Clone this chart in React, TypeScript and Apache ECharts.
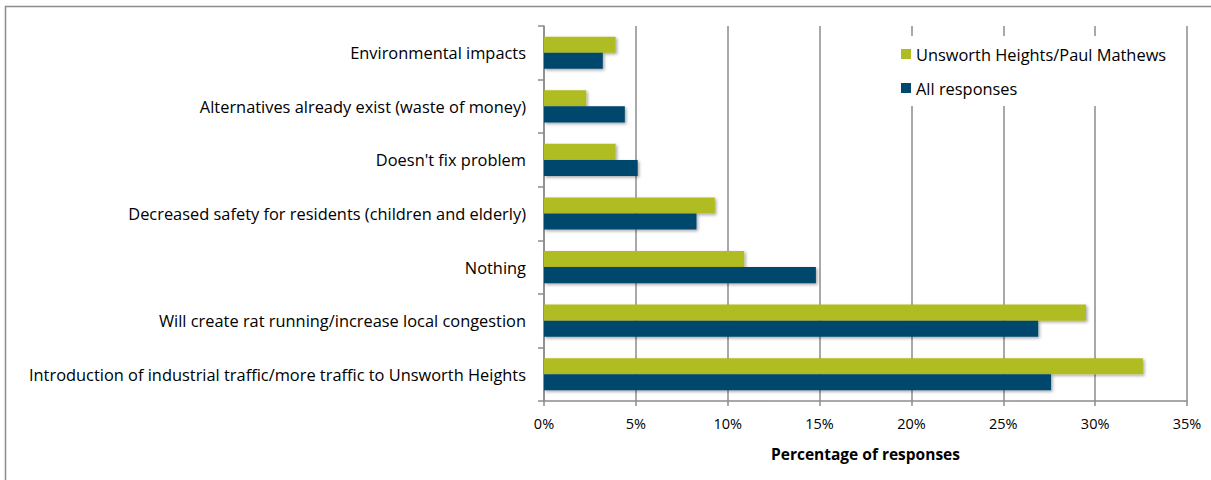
import React, { useEffect, useRef } from "react";
import * as echarts from "echarts";

const categories = [
  "Introduction of industrial traffic/more traffic to Unsworth Heights",
  "Will create rat running/increase local congestion",
  "Nothing",
  "Decreased safety for residents (children and elderly)",
  "Doesn't fix problem",
  "Alternatives already exist (waste of money)",
  "Environmental impacts",
];
const unsworthValues = [32.6, 29.5, 10.9, 9.3, 3.9, 2.3, 3.9];
const allValues = [27.6, 26.9, 14.8, 8.3, 5.1, 4.4, 3.2];
const seriesNames = ["Unsworth Heights/Paul Mathews", "All responses"];
const xTicks = { min: 0, max: 35, interval: 5 };

const FONT = "'Open Sans', Lato, sans-serif";
const GRAY = "#8c8c8c";

export default function App() {
  const ref = useRef<HTMLDivElement>(null);
  useEffect(() => {
    if (!ref.current) return;
    const chart = echarts.init(ref.current, null, { renderer: "svg" });
    const shadow = {
      shadowColor: "rgba(0,0,0,0.35)",
      shadowBlur: 3,
      shadowOffsetX: 1.5,
      shadowOffsetY: 1.5,
    };
    chart.setOption({
      animation: false,
      backgroundColor: "#ffffff",
      textStyle: { fontFamily: FONT },
      grid: { left: 544, right: 24, top: 26, bottom: 79, containLabel: false },
      graphic: [
        {
          type: "rect",
          shape: { x: 5.5, y: 6.5, width: 1230, height: 500 },
          style: { fill: "none", stroke: GRAY, lineWidth: 1.5 },
          silent: true,
        },
      ],
      legend: {
        orient: "vertical",
        left: 891,
        top: 36,
        data: seriesNames,
        itemWidth: 10,
        itemHeight: 10,
        itemGap: 16,
        icon: "rect",
        backgroundColor: "#ffffff",
        padding: [9, 8, 9, 10],
        textStyle: { fontFamily: FONT, fontSize: 16.4, color: "#000", lineHeight: 18 },
        z: 10,
      },
      xAxis: {
        type: "value",
        min: xTicks.min,
        max: xTicks.max,
        interval: xTicks.interval,
        axisLabel: {
          formatter: "{value}%",
          fontFamily: FONT,
          fontSize: 14.5,
          color: "#000",
          margin: 15,
        },
        axisLine: { show: true, lineStyle: { color: GRAY, width: 1.5 } },
        axisTick: { show: true, length: 5, lineStyle: { color: GRAY, width: 1.5 } },
        splitLine: { show: true, lineStyle: { color: GRAY, width: 1.5 } },
        name: "Percentage of responses",
        nameLocation: "middle",
        nameGap: 45,
        nameTextStyle: { fontFamily: FONT, fontSize: 15.5, fontWeight: "bold", color: "#000" },
      },
      yAxis: {
        type: "category",
        data: categories,
        axisLabel: { fontFamily: FONT, fontSize: 16.4, color: "#000", margin: 18 },
        axisLine: { show: true, lineStyle: { color: GRAY, width: 1.5 } },
        axisTick: { show: true, length: 6, lineStyle: { color: GRAY, width: 1.5 } },
        splitLine: { show: false },
      },
      series: [
        {
          name: seriesNames[0],
          type: "bar",
          data: unsworthValues,
          barGap: "0%",
          barCategoryGap: "40%",
          itemStyle: { color: "#afbd22", ...shadow },
        },
        {
          name: seriesNames[1],
          type: "bar",
          data: allValues,
          barGap: "0%",
          barCategoryGap: "40%",
          itemStyle: { color: "#00476e", ...shadow },
        },
      ],
    });
    return () => chart.dispose();
  }, []);
  return (
    <div
      ref={ref}
      style={{ position: "fixed", left: 0, top: 0, width: 1211, height: 480 }}
    />
  );
}
